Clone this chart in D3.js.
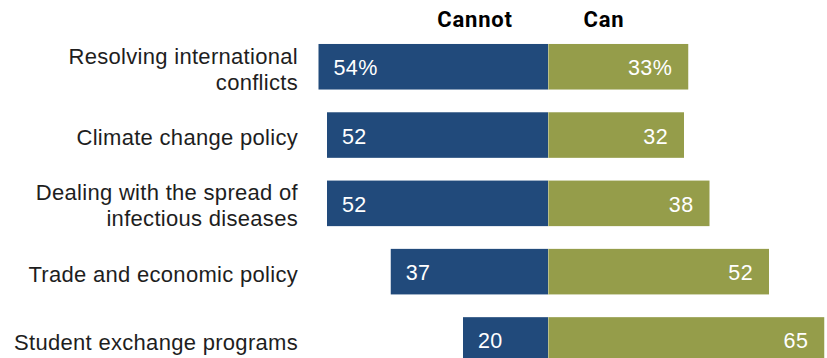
<!DOCTYPE html>
<html>
<head>
<meta charset="utf-8">
<script src="https://cdn.jsdelivr.net/npm/d3@7"></script>
<style>
  html, body { margin: 0; padding: 0; background: #fff; }
  svg { display: block; }
  text { font-family: "Liberation Sans", Arial, sans-serif; }
</style>
</head>
<body>
<svg id="chart" width="827" height="358"></svg>
<script>
// Survey items and shares (%)
const categories = [
  ["Resolving international", "conflicts"],
  ["Climate change policy"],
  ["Dealing with the spread of", "infectious diseases"],
  ["Trade and economic policy"],
  ["Student exchange programs"]
];
const cannotValues = [54, 52, 52, 37, 20];
const canValues = [33, 32, 38, 52, 65];
const seriesLabels = ["Cannot", "Can"];

const centerX = 548;
const unit = 4.25;

const svg = d3.select("#chart");

const x = d3.scaleLinear()
  .domain([-100, 100])
  .range([centerX - 100 * unit, centerX + 100 * unit]);

const y = d3.scaleBand()
  .domain(d3.range(categories.length))
  .range([44 - 11.4, 44 - 11.4 + 68.3 * 5])
  .paddingInner(0.333)
  .paddingOuter(0.1665);

const blue = "#214a7b";
const green = "#959d4a";

// Column headers
svg.selectAll("text.head")
  .data(seriesLabels)
  .join("text")
  .attr("class", "head")
  .attr("x", (d, i) => i === 0 ? 475 : 604)
  .attr("y", 27)
  .attr("text-anchor", "middle")
  .style("font-family", "Roboto, 'Liberation Sans', Arial, sans-serif")
  .style("font-weight", "bold")
  .style("font-size", "22px")
  .style("letter-spacing", "0.8px")
  .attr("fill", "#000")
  .text(d => d);

const rows = svg.selectAll("g.row")
  .data(categories.map((c, i) => ({ label: c, cannot: cannotValues[i], can: canValues[i], i })))
  .join("g")
  .attr("class", "row");

rows.append("rect")
  .attr("x", d => x(-d.cannot))
  .attr("y", d => y(d.i))
  .attr("width", d => x(0) - x(-d.cannot))
  .attr("height", y.bandwidth())
  .attr("fill", blue);

rows.append("rect")
  .attr("x", x(0))
  .attr("y", d => y(d.i))
  .attr("width", d => x(d.can) - x(0))
  .attr("height", y.bandwidth())
  .attr("fill", green);

// Divider between the two halves
rows.append("line")
  .attr("x1", x(0) + 0.5).attr("x2", x(0) + 0.5)
  .attr("y1", d => y(d.i)).attr("y2", d => y(d.i) + y.bandwidth())
  .attr("stroke", "#ffffff").attr("stroke-opacity", 0.35);

const fmt = (v, i) => i === 0 ? v + "%" : String(v);
const mid = d => y(d.i) + y.bandwidth() / 2;

rows.append("text")
  .attr("x", d => x(-d.cannot) + 15)
  .attr("y", d => mid(d) + 8.5)
  .attr("fill", "#fff")
  .style("font-size", "21.5px")
  .style("letter-spacing", "0.4px")
  .text(d => fmt(d.cannot, d.i));

rows.append("text")
  .attr("x", d => x(d.can) - 16)
  .attr("y", d => mid(d) + 8.5)
  .attr("text-anchor", "end")
  .attr("fill", "#fff")
  .style("font-size", "21.5px")
  .style("letter-spacing", "0.4px")
  .text(d => fmt(d.can, d.i));

// Category labels, right-aligned against the bars
rows.append("text")
  .attr("x", 298)
  .attr("y", d => mid(d) + (d.label.length > 1 ? -3 : 10))
  .attr("text-anchor", "end")
  .attr("fill", "#1e1e1e")
  .style("font-size", "22px")
  .style("letter-spacing", "0.3px")
  .each(function(d) {
    d3.select(this).selectAll("tspan")
      .data(d.label)
      .join("tspan")
      .attr("x", 298)
      .attr("dy", (t, k) => k === 0 ? 0 : 26)
      .text(t => t);
  });
</script>
</body>
</html>
